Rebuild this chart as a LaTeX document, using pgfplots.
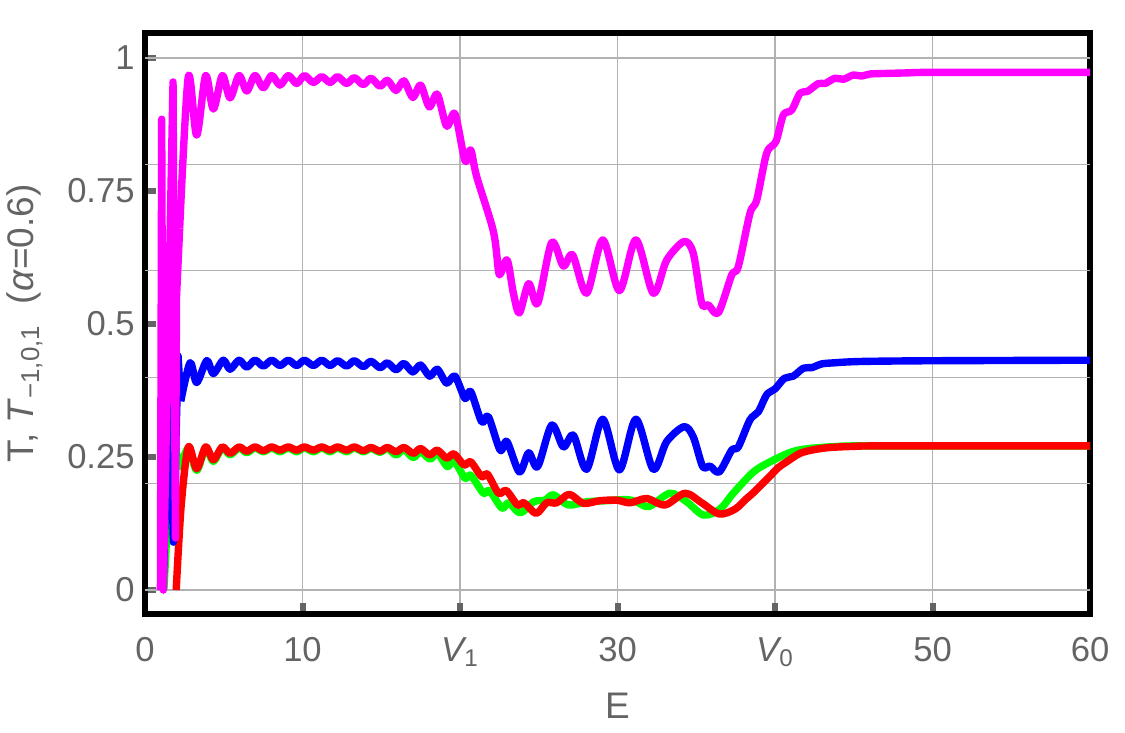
\documentclass[border=0pt]{standalone}
\usepackage{pgfplots}
\pgfplotsset{compat=1.18}
\usepackage{fontspec}
\setmainfont{Liberation Sans}
\definecolor{tgray}{RGB}{100,100,100}
\definecolor{ggray}{RGB}{178,178,178}
\begin{document}
\begin{tikzpicture}
\begin{axis}[
 scale only axis, width=472.5pt, height=290.5pt,
 xmin=0, xmax=60, ymin=-0.045, ymax=1.047,
 axis line style={line width=2.8pt, black},
 tick pos=left, tick align=inside,
 major tick length=5.5pt,
 tick style={line width=3pt, tgray},
 xtick={0,10,20,30,40,50,60},
 xticklabels={0,10,{\itshape V}\textsubscript{1},30,{\itshape V}\textsubscript{0},50,60},
 ytick={0,0.25,0.5,0.75,1},
 yticklabels={0,0.25,0.5,0.75,1},
 xmajorgrids, major grid style={ggray, line width=0.6pt},
 extra y ticks={0,0.2,0.4,0.6,0.8,1},
 extra y tick labels={},
 extra y tick style={grid=major, major tick length=0pt},
 ticklabel style={font=\fontsize{17.3}{20}\selectfont, text=tgray, inner sep=0pt},
 xticklabel style={anchor=north, yshift=-11.5pt},
 yticklabel style={anchor=east, xshift=-5pt},
 xlabel={E},
 ylabel={T, \textit{T}\textsubscript{−1,0,1}~~(\textit{α}=0.6)},
 label style={font=\fontsize{18.5}{22}\selectfont, text=tgray, inner sep=0pt},
 xlabel style={at={(axis description cs:0.5,-0.136)}, anchor=north},
 ylabel style={at={(axis description cs:-0.108,0.5)}, anchor=south},
 every axis plot/.append style={line width=3.7pt, line join=round},
]
% green
\addplot[color={rgb,255:red,0;green,255;blue,0}] coordinates {(1.2,0) (1.75,0.32) (2.0,0.26)};
\addplot[color={rgb,255:red,0;green,255;blue,0}, smooth] coordinates {
(2.0,0.26) (2.2,0.232) (2.75,0.266) (3.28,0.225) (3.85,0.266) (4.34,0.242) (4.91,0.267) (5.40,0.254) (5.97,0.267) (6.46,0.258) (6.98,0.267) (7.51,0.26) (8.04,0.267) (8.57,0.26) (9.10,0.267) (9.63,0.26) (10.12,0.267) (10.69,0.26) (11.22,0.267) (11.75,0.26) (12.23,0.267) (12.80,0.26) (13.29,0.267) (13.86,0.26) (14.35,0.266) (14.92,0.259) (15.39,0.266) (15.94,0.254) (16.44,0.264) (17.03,0.249) (17.5,0.26) (18.1,0.246) (18.56,0.257) (19.2,0.232) (19.62,0.243) (20.32,0.21) (20.68,0.216) (21.49,0.182) (21.87,0.187) (22.66,0.154) (23.09,0.164) (23.83,0.145) (24.68,0.166) (25.4,0.169) (25.93,0.179) (26.88,0.16) (28.04,0.166) (29.31,0.168) (30.58,0.17) (31.2,0.166) (32.0,0.157) (33.33,0.182) (34.39,0.166) (35.45,0.141) (36.5,0.152) (37.35,0.182) (38.63,0.222) (39.68,0.241) (40.74,0.256) (41.48,0.263) (42.5,0.267) (44,0.27) (46,0.271) (60,0.271)};
% red
\addplot[color={rgb,255:red,255;green,0;blue,0}, smooth] coordinates {
(1.98,0) (2.3,0.16) (2.75,0.269) (3.28,0.228) (3.85,0.269) (4.34,0.245) (4.91,0.269) (5.40,0.257) (5.97,0.269) (6.46,0.261) (6.98,0.269) (7.51,0.262) (8.04,0.269) (8.57,0.263) (9.10,0.269) (9.63,0.263) (10.12,0.269) (10.69,0.263) (11.22,0.269) (11.75,0.263) (12.23,0.269) (12.80,0.263) (13.29,0.269) (13.86,0.262) (14.35,0.268) (14.92,0.261) (15.39,0.268) (15.94,0.26) (16.44,0.268) (17.03,0.257) (17.5,0.266) (18.07,0.254) (18.56,0.263) (19.15,0.248) (19.62,0.256) (20.26,0.235) (20.68,0.241) (21.38,0.213) (21.74,0.218) (22.45,0.182) (22.94,0.187) (23.65,0.16) (24.07,0.164) (24.83,0.144) (25.5,0.164) (26.14,0.164) (26.94,0.18) (27.83,0.163) (28.89,0.168) (29.95,0.169) (30.79,0.164) (31.85,0.172) (33.02,0.16) (34.29,0.182) (35.35,0.164) (36.46,0.143) (37.46,0.152) (38.2,0.172) (38.63,0.183) (39.2,0.2) (39.68,0.214) (40.2,0.23) (40.74,0.241) (41.59,0.257) (42.5,0.264) (43.5,0.268) (45,0.27) (47,0.271) (60,0.271)};
% blue
\addplot[color={rgb,255:red,0;green,0;blue,255}] coordinates {(1.15,0) (1.55,0.43) (1.8,0.09) (2.1,0.44) (2.27,0.355)};
\addplot[color={rgb,255:red,0;green,0;blue,255}, smooth] coordinates {
(2.27,0.355) (2.86,0.427) (3.28,0.39) (3.92,0.431) (4.34,0.407) (4.97,0.432) (5.40,0.415) (5.97,0.432) (6.46,0.419) (6.98,0.432) (7.51,0.421) (8.04,0.432) (8.57,0.422) (9.10,0.432) (9.63,0.422) (10.12,0.432) (10.69,0.422) (11.22,0.432) (11.75,0.422) (12.23,0.431) (12.80,0.421) (13.29,0.431) (13.86,0.42) (14.35,0.430) (14.92,0.418) (15.39,0.427) (15.94,0.414) (16.44,0.426) (17.0,0.41) (17.5,0.423) (18.07,0.402) (18.56,0.415) (19.15,0.389) (19.68,0.402) (20.32,0.36) (20.68,0.373) (21.38,0.316) (21.8,0.326) (22.55,0.263) (22.98,0.279) (23.77,0.222) (24.36,0.258) (24.93,0.232) (25.82,0.31) (26.56,0.269) (27.2,0.291) (28.04,0.227) (29.06,0.321) (30.12,0.226) (31.17,0.321) (32.27,0.227) (33.12,0.279) (34.22,0.307) (34.81,0.288) (35.41,0.232) (35.87,0.233) (36.46,0.222) (37.25,0.263) (37.67,0.269) (38.41,0.32) (38.94,0.335) (39.47,0.367) (40.0,0.378) (40.6,0.398) (41.16,0.402) (41.8,0.417) (42.33,0.418) (42.96,0.425) (43.7,0.427) (44.8,0.429) (46.2,0.430) (50,0.431) (60,0.432)};
% magenta
\addplot[color={rgb,255:red,255;green,0;blue,255}] coordinates {(0.98,0) (1.06,0.885) (1.16,0.0) (1.78,0.955) (1.93,0.098) (2.0,0.55) (2.2,0.68)};
\addplot[color={rgb,255:red,255;green,0;blue,255}, smooth] coordinates {
(2.2,0.68) (2.75,0.965) (3.28,0.855) (3.85,0.967) (4.34,0.904) (4.91,0.967) (5.40,0.925) (5.97,0.967) (6.46,0.938) (6.98,0.967) (7.51,0.944) (8.04,0.967) (8.57,0.949) (9.10,0.967) (9.63,0.952) (10.12,0.967) (10.69,0.954) (11.22,0.965) (11.75,0.954) (12.23,0.965) (12.80,0.952) (13.29,0.963) (13.86,0.950) (14.35,0.962) (14.92,0.947) (15.39,0.958) (15.94,0.939) (16.44,0.957) (17.0,0.926) (17.5,0.949) (18.05,0.908) (18.56,0.932) (19.15,0.872) (19.68,0.895) (20.32,0.807) (20.68,0.827) (21.06,0.777) (22.12,0.674) (22.44,0.60) (22.58,0.595) (23.0,0.62) (23.39,0.558) (23.77,0.521) (24.36,0.576) (24.93,0.539) (25.82,0.653) (26.56,0.609) (27.15,0.63) (28.04,0.558) (29.06,0.658) (30.12,0.563) (31.17,0.658) (32.27,0.558) (33.12,0.62) (34.22,0.655) (34.81,0.633) (35.35,0.539) (35.77,0.536) (36.40,0.521) (37.25,0.592) (37.67,0.608) (38.41,0.708) (38.84,0.733) (39.47,0.821) (40.06,0.843) (40.53,0.893) (41.06,0.902) (41.59,0.934) (42.05,0.937) (42.75,0.952) (43.17,0.952) (43.81,0.962) (44.34,0.96) (44.97,0.968) (45.5,0.966) (46.03,0.970) (47.1,0.971) (48.4,0.972) (50.07,0.973) (60,0.973)};
\end{axis}
\pgfresetboundingbox
\path[use as bounding box] (current axis.south west) +(-72.5pt,-59pt) (current axis.north east) +(17.5pt,16.5pt);
\end{tikzpicture}
\end{document}
